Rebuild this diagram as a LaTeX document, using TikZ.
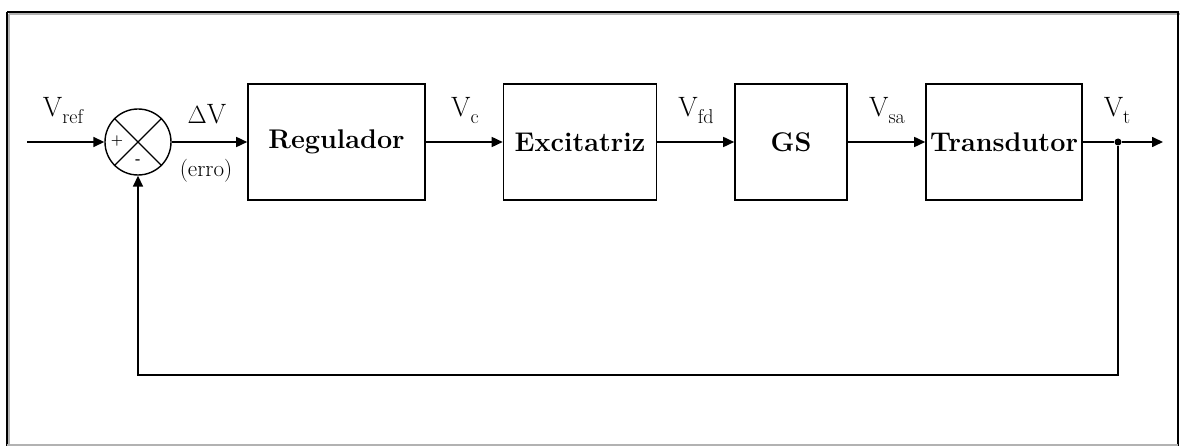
\documentclass[tikz,border=0pt]{standalone}
\usetikzlibrary{arrows.meta}
\newcommand{\sbx}[1]{\raisebox{-7pt}{\fontsize{20}{24}\selectfont #1}}
\begin{document}
\begin{tikzpicture}[x=1pt,y=-1pt,
  line width=1.6pt,
  blk/.style={draw,line width=1.6pt,minimum height=116pt,inner sep=0pt,
    font=\fontsize{27}{32}\selectfont\bfseries},
  lbl/.style={font=\fontsize{28}{32}\selectfont,inner sep=0pt,anchor=base},
  sgn/.style={font=\fontsize{14}{16}\selectfont\bfseries,inner sep=0pt},
  arr/.style={-{Triangle[length=11pt,width=10pt]}},
  sumc/.style={circle,draw,line width=1.4pt,minimum size=66pt,inner sep=0pt},
  dotn/.style={circle,fill,minimum size=7pt,inner sep=0pt}]
\useasboundingbox (0,0) rectangle (1181,446);
% frame
\draw[gray!60,line width=1.6pt] (9,14) -- (1180,14) (9,14) -- (9,446);
\draw[line width=1.6pt] (7,12) -- (1178,12) -- (1178,446) (7,12) -- (7,446);
\draw[gray!60,line width=1.4pt] (7,445) -- (1178,445);
% blocks
\node[sumc] (sum) at (138,142) {};
\draw[line width=1.2pt] (sum.north west) -- (sum.south east) (sum.north east) -- (sum.south west);
\node[sgn] (plus) at (117,141) {+};
\node[sgn] (minus) at (138,162) {-};
\node[blk,minimum width=177pt] (reg) at (336.5,142) {Regulador};
\node[blk,minimum width=153pt] (exc) at (580,142) {Excitatriz};
\node[blk,minimum width=112pt] (gs) at (791,142) {GS};
\node[blk,minimum width=156pt] (tra) at (1004,142) {Transdutor};
\coordinate (in) at (27,142);
\node[dotn] (j) at (1118,142) {};
\coordinate (out) at (1163,142);
\coordinate (fb1) at (1118,375);
\coordinate (fb2) at (138,375);
% connectors
\draw[arr] (in) -- (sum.west);
\draw[arr] (sum.east) -- (reg.west);
\draw[arr] (reg.east) -- (exc.west);
\draw[arr] (exc.east) -- (gs.west);
\draw[arr] (gs.east) -- (tra.west);
\draw (tra.east) -- (j);
\draw[arr] (j) -- (out);
\draw[arr] (j) -- (fb1) -- (fb2) -- (sum.south);
% labels
\node[lbl] (lref) at (63,117) {V\sbx{ref}};
\node[lbl] (ldv) at (207,124) {$\Delta$V};
\node[lbl,font=\fontsize{23}{26}\selectfont] (lerr) at (206,177) {(erro)};
\node[lbl] (lc) at (465,117) {V\sbx{c}};
\node[lbl] (lfd) at (696,117) {V\sbx{fd}};
\node[lbl] (lsa) at (887,117) {V\sbx{sa}};
\node[lbl] (lt) at (1117,117) {V\sbx{t}};
\end{tikzpicture}
\end{document}
